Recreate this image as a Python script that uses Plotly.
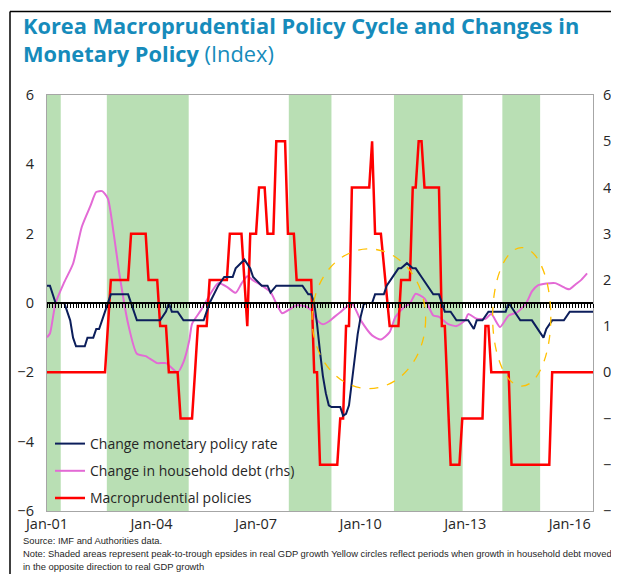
import plotly.graph_objects as go

# Change monetary policy rate (left axis)
rate_dates = ["2001-01", "2001-02", "2001-04", "2001-07", "2001-09", "2001-10", "2001-11", "2002-02",
              "2002-03", "2002-05", "2002-06", "2002-07", "2002-08", "2002-10", "2002-11", "2003-05",
              "2003-06", "2003-08", "2004-04", "2004-06", "2004-07", "2004-08", "2004-10", "2004-12",
              "2005-07", "2005-09", "2005-12", "2006-02", "2006-05", "2006-06", "2006-09", "2006-11",
              "2006-12", "2007-03", "2007-05", "2007-06", "2007-08", "2008-05", "2008-07", "2008-08",
              "2008-09", "2008-10", "2008-11", "2008-12", "2009-01", "2009-02", "2009-03", "2009-06",
              "2009-07", "2009-08", "2009-09", "2009-10", "2009-11", "2009-12", "2010-01", "2010-02",
              "2010-03", "2010-05", "2010-06", "2010-09", "2010-10", "2010-12", "2011-02", "2011-03",
              "2011-05", "2011-07", "2011-08", "2011-10", "2011-12", "2012-02", "2012-04", "2012-05",
              "2012-06", "2012-08", "2012-10", "2013-02", "2013-04", "2013-05", "2013-07", "2013-09",
              "2014-03", "2014-04", "2014-06", "2014-08", "2014-12", "2015-02", "2015-04", "2015-05",
              "2015-07", "2015-11", "2016-01", "2016-09"]
rate_values = [0.5, 0.5, 0, 0, -0.5, -1.0, -1.25, -1.25,
               -1.0, -1.0, -0.75, -0.75, -0.5, 0, 0.25, 0.25,
               0, -0.5, -0.5, -0.25, 0, -0.25, -0.25, -0.5,
               -0.5, 0, 0.5, 0.75, 0.75, 1.0, 1.25, 1.0,
               0.75, 0.5, 0.5, 0.3, 0.5, 0.5, 0.25, 0.25,
               0, -0.6, -1.4, -2.1, -2.6, -2.95, -3.0, -3.0,
               -3.25, -3.2, -2.95, -2.3, -1.6, -0.9, -0.4, -0.05,
               0, 0, 0.25, 0.25, 0.5, 0.75, 1.0, 1.0,
               1.15, 1.0, 1.0, 0.75, 0.5, 0.25, 0.25, 0,
               -0.25, -0.25, -0.5, -0.5, -0.75, -0.5, -0.5, -0.25,
               -0.25, 0, -0.25, -0.5, -0.5, -0.75, -1.0, -0.75,
               -0.5, -0.5, -0.25, -0.25]

# Change in household debt (right axis)
debt_dates = ["2001-01", "2001-02", "2001-04", "2001-07", "2001-10", "2002-01", "2002-04", "2002-06",
              "2002-08", "2002-10", "2002-12", "2003-02", "2003-05", "2003-08", "2003-11", "2004-03",
              "2004-06", "2004-10", "2004-12", "2005-02", "2005-03", "2005-06", "2005-10", "2005-12",
              "2006-03", "2006-06", "2006-08", "2006-10", "2006-12", "2007-03", "2007-06", "2007-08",
              "2007-10", "2007-12", "2008-03", "2008-06", "2008-08", "2008-10", "2008-12", "2009-02",
              "2009-04", "2009-06", "2009-10", "2010-01", "2010-05", "2010-08", "2010-11", "2011-01",
              "2011-04", "2011-06", "2011-08", "2011-11", "2012-02", "2012-04", "2012-07", "2012-10",
              "2013-01", "2013-02", "2013-05", "2013-08", "2013-10", "2014-01", "2014-04", "2014-07",
              "2014-10", "2014-12", "2015-02", "2015-05", "2015-08", "2015-12", "2016-01", "2016-03",
              "2016-05", "2016-07"]
debt_values = [0.76, 0.84, 1.5, 1.95, 2.35, 3.15, 3.6, 3.9,
               3.92, 3.76, 3.0, 2.1, 1.05, 0.4, 0.35, 0.2,
               0.2, 0.0, 0.22, 0.7, 1.05, 1.34, 1.77, 1.93,
               1.85, 1.72, 1.92, 2.08, 1.99, 1.88, 1.74, 1.49,
               1.28, 1.34, 1.45, 1.43, 1.34, 1.13, 1.04, 1.1,
               1.2, 1.3, 1.49, 1.13, 0.8, 0.71, 0.87, 1.2,
               1.41, 1.49, 1.7, 1.6, 1.23, 1.2, 1.05, 1.0,
               1.13, 1.26, 1.16, 1.16, 1.26, 0.98, 1.23, 1.3,
               1.49, 1.75, 1.88, 1.92, 1.93, 1.81, 1.8, 1.9,
               2.0, 2.14]

# Macroprudential policies (right axis)
macro_dates = ["2001-01", "2002-09", "2002-11", "2003-05", "2003-06", "2003-11", "2003-12", "2004-03",
               "2004-04", "2004-06", "2004-07", "2004-10", "2004-11", "2005-03", "2005-04", "2005-05",
               "2005-08", "2005-09", "2006-03", "2006-04", "2006-08", "2006-10", "2006-11", "2007-01",
               "2007-02", "2007-04", "2007-05", "2007-07", "2007-08", "2007-11", "2007-12", "2008-02",
               "2008-03", "2008-08", "2008-09", "2008-10", "2008-11", "2009-05", "2009-06", "2009-07",
               "2009-08", "2009-09", "2009-10", "2010-04", "2010-05", "2010-06", "2010-08", "2010-11",
               "2011-02", "2011-03", "2011-06", "2011-07", "2011-08", "2011-09", "2011-10", "2011-11",
               "2012-04", "2012-05", "2012-06", "2012-08", "2012-11", "2012-12", "2013-07", "2013-08",
               "2013-09", "2013-10", "2014-04", "2014-05", "2015-06", "2015-07", "2016-09"]
macro_values = [0, 0, 2, 2, 3, 3, 2, 2,
                1, 1, 0, 0, -1, -1, 0, 1,
                1, 2, 2, 3, 3, 1, 3, 3,
                4, 4, 3, 3, 5, 5, 3, 3,
                2, 2, 0, 0, -2, -2, -1, -1,
                1, 1, 4, 4, 5, 3, 3, 1,
                1, 2, 2, 4, 4, 5, 5, 4,
                4, 1, 1, -2, -2, -1, -1, 1,
                1, 0, 0, -2, -2, 0, 0]

# peak-to-trough episodes in real GDP growth
shade_starts = ["2001-01-01", "2002-09-20", "2007-12-10", "2010-12-16", "2014-01-25"]
shade_ends = ["2001-05-25", "2005-01-25", "2009-03-01", "2012-12-05", "2015-02-25"]

# yellow circles (x0, x1, y0, y1 on left axis)
circle_x0 = ["2008-08-10", "2013-10-15"]
circle_x1 = ["2011-11-13", "2015-06-17"]
circle_y0 = [-2.47, -2.4]
circle_y1 = [1.56, 1.6]

X_RANGE = ["2001-01-01", "2016-09-01"]

# the page body adds an 8px margin on every side; keep the figure small enough
# that the page does not scroll, and lay it out 8px up/left of the shot
OFF = 8
W, H = 619 - 2 * OFF, 582 - 2 * OFF
L, R, T, B = 47 - OFF, 593 - OFF, 95 - OFF, 511 - OFF


def px_x(px):
    # px is measured in the screenshot
    return (px - OFF - L) / (R - L)


def px_y(py):
    return (B - (py - OFF)) / (B - T)


FONT = "Open Sans"
NOTE_FONT = "Liberation Sans"
TEXT = "#262626"
AXIS_GREY = "#A6A6A6"

fig = go.Figure()

fig.add_trace(go.Scatter(
    x=rate_dates, y=rate_values, mode="lines", name="Change monetary policy rate",
    legendgroup="a", line={"color": "#0C1E5B", "width": 2}, xaxis="x2", yaxis="y",
))
fig.add_trace(go.Scatter(
    x=debt_dates, y=debt_values, mode="lines", name="Change in household debt (rhs)",
    legendgroup="b", line={"color": "#E36AD5", "width": 2, "shape": "spline", "smoothing": 0.6},
    xaxis="x", yaxis="y2",
))
fig.add_trace(go.Scatter(
    x=macro_dates, y=macro_values, mode="lines", name="Macroprudential policies",
    legendgroup="c", line={"color": "#FF0000", "width": 2.5}, xaxis="x", yaxis="y2",
))

shapes = []
for s, e in zip(shade_starts, shade_ends):
    shapes.append(dict(type="rect", xref="x", yref="paper", x0=s, x1=e, y0=0, y1=1,
                       fillcolor="#B9DFB4", line={"width": 0}, layer="below"))
for x0, x1, y0, y1 in zip(circle_x0, circle_x1, circle_y0, circle_y1):
    shapes.append(dict(type="circle", xref="x", yref="y", x0=x0, x1=x1, y0=y0, y1=y1,
                       line={"color": "#FFC000", "width": 1.3, "dash": "dash"}, layer="above"))
# outer frame: left and top edges
shapes.append(dict(type="line", xref="paper", yref="paper",
                   x0=px_x(10), x1=px_x(10), y0=px_y(11.5), y1=px_y(582),
                   line={"color": "black", "width": 1.5}, layer="above"))
shapes.append(dict(type="line", xref="paper", yref="paper",
                   x0=px_x(10), x1=px_x(619), y0=px_y(11.5), y1=px_y(11.5),
                   line={"color": "black", "width": 1.5}, layer="above"))

annotations = [
    dict(text="<b>Korea Macroprudential Policy Cycle and Changes in<br>Monetary Policy</b> (Index)",
         xref="paper", yref="paper", x=px_x(21), y=px_y(9), xanchor="left", yanchor="top",
         align="left", showarrow=False,
         font={"family": FONT, "size": 21.8, "color": "#168BBB"}),
    dict(text="Source: IMF and Authorities data.", xref="paper", yref="paper",
         x=px_x(21), y=px_y(540), xanchor="left", yanchor="middle", showarrow=False,
         font={"family": NOTE_FONT, "size": 9.4, "color": TEXT}),
    dict(text="Note: Shaded areas represent peak-to-trough epsides in real GDP growth Yellow circles "
              "reflect periods when growth in household debt moved",
         xref="paper", yref="paper", x=px_x(21), y=px_y(553), xanchor="left", yanchor="middle",
         showarrow=False, font={"family": NOTE_FONT, "size": 9.4, "color": TEXT}),
    dict(text="in the opposite direction to real GDP growth", xref="paper", yref="paper",
         x=px_x(21), y=px_y(566), xanchor="left", yanchor="middle", showarrow=False,
         font={"family": NOTE_FONT, "size": 9.4, "color": TEXT}),
]

fig.update_layout(
    width=W, height=H,
    margin={"l": L, "r": W - R, "t": T, "b": H - B, "autoexpand": False},
    paper_bgcolor="white", plot_bgcolor="rgba(0,0,0,0)",
    font={"family": FONT, "size": 14, "color": TEXT},
    showlegend=True,
    legend={"x": px_x(50), "y": px_y(514), "xanchor": "left", "yanchor": "bottom",
            "bgcolor": "rgba(0,0,0,0)", "font": {"family": FONT, "size": 14, "color": TEXT},
            "tracegroupgap": 6, "traceorder": "grouped"},
    shapes=shapes,
    annotations=annotations,
    xaxis={"type": "date", "range": X_RANGE, "tick0": "2001-01-01", "dtick": "M36",
           "tickformat": "%b-%y", "showgrid": False, "zeroline": False,
           "showline": True, "linecolor": AXIS_GREY, "linewidth": 1.3, "mirror": True,
           "ticks": "", "ticklabelstandoff": -1, "automargin": False,
           "tickfont": {"family": FONT, "size": 14.5, "color": TEXT}},
    # zero line of the left axis, with monthly tick marks
    xaxis2={"type": "date", "range": X_RANGE, "overlaying": "x", "anchor": "free",
            "position": 0.5, "side": "bottom", "showticklabels": False, "showgrid": False,
            "showline": True, "linecolor": "black", "linewidth": 1.5, "automargin": False,
            "ticks": "outside", "ticklen": 4, "tickwidth": 1, "tickcolor": "black",
            "tick0": "2001-01-01", "dtick": "M1"},
    yaxis={"range": [-6, 6], "dtick": 2, "showgrid": False, "zeroline": False,
           "showline": True, "linecolor": AXIS_GREY, "linewidth": 1.3,
           "ticks": "", "ticklabelstandoff": 9, "automargin": False,
           "tickfont": {"family": FONT, "size": 14.5, "color": TEXT}},
    yaxis2={"range": [-3, 6], "dtick": 1, "overlaying": "y", "side": "right", "anchor": "x",
            "showgrid": False, "zeroline": False, "showline": True, "linecolor": AXIS_GREY,
            "linewidth": 1.3, "ticks": "", "ticklabelstandoff": 6, "automargin": False,
            "ticklabeloverflow": "allow",
            "tickfont": {"family": FONT, "size": 14.5, "color": TEXT}},
)

fig.write_html("out.html")
